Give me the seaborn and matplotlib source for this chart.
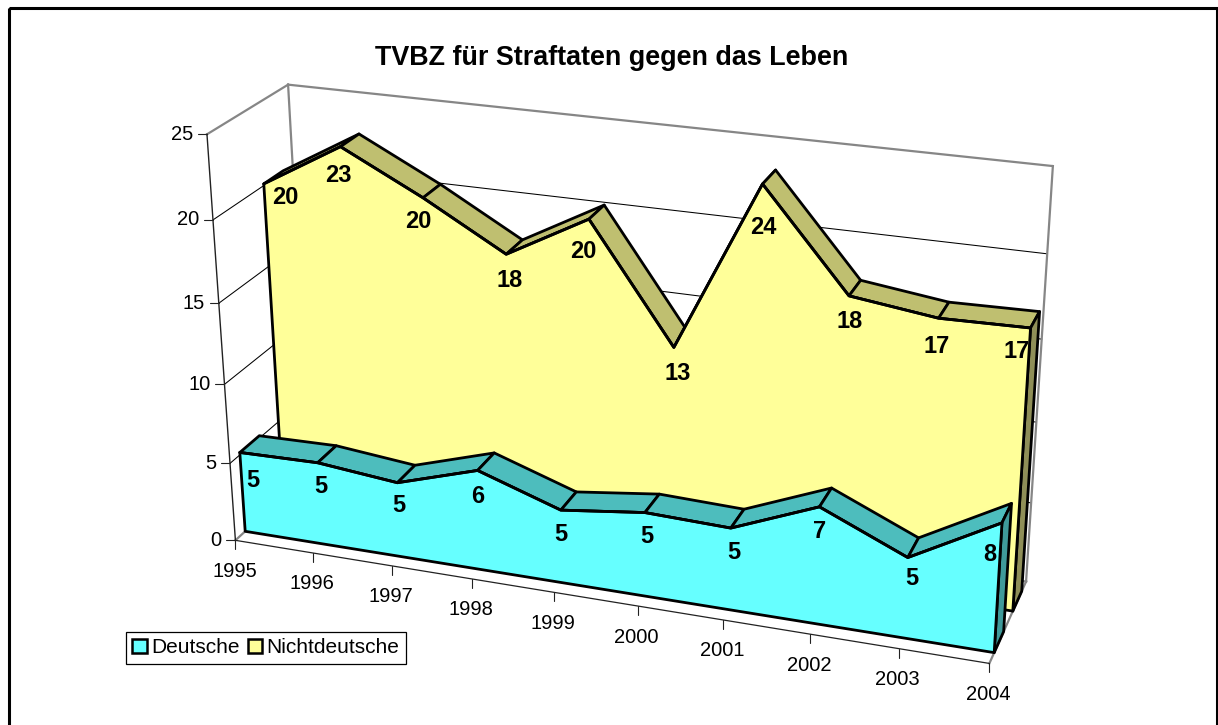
import numpy as np
import pandas as pd
import matplotlib
matplotlib.use("Agg")
import matplotlib.pyplot as plt
from matplotlib.patches import Patch, Polygon, Rectangle
import seaborn as sns

years = ["1995","1996","1997","1998","1999","2000","2001","2002","2003","2004"]
deutsche = [5.15,5.25,4.75,6.3,4.6,5.25,5.1,7.2,4.95,7.85]
nichtdeutsche = [20.1,22.9,20.4,17.6,20.3,13.25,23.5,17.65,17.0,17.1]
deutsche_labels = ["5","5","5","6","5","5","5","7","5","8"]
nichtdeutsche_labels = ["20","23","20","18","20","13","24","18","17","17"]
yticks = [0,5,10,15,20,25]
title = "TVBZ für Straftaten gegen das Leben"

sns.set_theme(style="white")
plt.rcParams["font.family"] = ["Liberation Sans", "DejaVu Sans"]

W, H = 1218, 725
fig = plt.figure(figsize=(W/100, H/100), dpi=100)
ax = fig.add_axes([0, 0, 1, 1])
ax.set_xlim(0, W); ax.set_ylim(H, 0); ax.axis("off")

# Camera fitted to the corners of the chart box: (x index, value, depth) -> picture
world = np.array([[0,0,0],[0,25,0],[0,25,1],[9,25,1],[9,0,1],[9,0,0],[0,0,1]], float)
image = np.array([[234.5,541],[208,134],[287,85],[1053,166],[1026,582],[989.3,663],[311,471]], float)
A = []; b = []
for (X,Y,Z),(u,v) in zip(world,image):
    A.append([X,Y,Z,1,0,0,0,0,-u*X,-u*Y,-u*Z]); b.append(u)
    A.append([0,0,0,0,X,Y,Z,1,-v*X,-v*Y,-v*Z]); b.append(v)
M = np.append(np.linalg.lstsq(np.array(A), np.array(b), rcond=None)[0], 1).reshape(3,4)
def proj(x, y, z):
    p = M @ np.array([x, y, z, 1.0])
    return p[0]/p[2], p[1]/p[2]

GRAY = "#868686"
def seg(a, b, color="black", lw=0.8, z=1):
    pa, pb = proj(*a), proj(*b)
    ax.plot([pa[0],pb[0]],[pa[1],pb[1]],color=color,lw=lw,zorder=z,solid_capstyle="projecting")

# Walls, gridlines
for v in yticks[1:-1]:
    seg((0,v,0),(0,v,1),lw=0.75); seg((0,v,1),(9,v,1),lw=0.75)
seg((0,25,0),(0,25,1),GRAY,1.6); seg((0,25,1),(9,25,1),GRAY,1.6)
seg((0,0,1),(0,25,1),GRAY,1.6); seg((9,0,1),(9,25,1),GRAY,1.6)
seg((0,0,0),(0,0,1),GRAY,1.6); seg((9,0,0),(9,0,1),GRAY,1.6)
seg((0,0,1),(9,0,1),GRAY,1.6)
seg((0,0,0),(0,25,0),"#222222",1.0)
seg((0,0,0),(9,0,0),"#222222",0.9,3)
# Ticks
for v in yticks:
    p = proj(0,v,0)
    ax.plot([p[0]-9,p[0]],[p[1],p[1]],color="#222222",lw=0.8,zorder=1)
    ax.text(p[0]-14,p[1],str(v),ha="right",va="center",fontsize=14.5,color="black")
for i,yr in enumerate(years):
    p = proj(i,0,0)
    ax.plot([p[0],p[0]],[p[1],p[1]+9],color="#222222",lw=0.8,zorder=3)
    ax.text(p[0]-1,p[1]+31,yr,ha="center",va="center",fontsize=14.5,color="black")

def area(values, z0, z1, front, top, side, base_z, name):
    n = len(values); eg = "black"; lw = 2.0
    for i in range(n-1):
        q = [proj(i,values[i],z0),proj(i+1,values[i+1],z0),proj(i+1,values[i+1],z1),proj(i,values[i],z1)]
        ax.add_patch(Polygon(q,closed=True,fc=top,ec=eg,lw=lw,joinstyle="round",zorder=base_z))
    q = [proj(n-1,0,z0),proj(n-1,values[-1],z0),proj(n-1,values[-1],z1),proj(n-1,0,z1)]
    ax.add_patch(Polygon(q,closed=True,fc=side,ec=eg,lw=lw,joinstyle="round",zorder=base_z))
    q = [proj(0,0,z0)]+[proj(i,values[i],z0) for i in range(n)]+[proj(n-1,0,z0)]
    ax.add_patch(Polygon(q,closed=True,fc=front,ec=eg,lw=lw,joinstyle="round",zorder=base_z+0.5))
    pts = np.array([proj(i,values[i],z0) for i in range(n)])
    df = pd.DataFrame({"px":pts[:,0],"py":pts[:,1],"series":name})
    sns.lineplot(data=df,x="px",y="py",color="black",lw=lw,sort=False,estimator=None,ax=ax,zorder=base_z+0.6,legend=False)
    return pts

y_pts = area(nichtdeutsche,0.625,0.875,"#FFFF99","#BFBF70","#8F8F58",5,"Nichtdeutsche")
d_pts = area(deutsche,0.125,0.375,"#66FFFF","#4DBDBD","#3F9A9A",10,"Deutsche")

# Data label nudges from each point, in pixels
y_off = [(22,14),(-2,29),(-5,24),(3,26),(-6,32),(4,26),(1,44),(1,26),(-2,28),(-14,24)]
d_off = [(13,28),(3,24),(1,23),(0,26),(0,24),(2,24),(3,24),(0,25),(4,21),(-12,32)]
for pts,labs,off in ((y_pts,nichtdeutsche_labels,y_off),(d_pts,deutsche_labels,d_off)):
    for p,l,o in zip(pts,labs,off):
        ax.text(p[0]+o[0],p[1]+o[1],l,ha="center",va="center",fontsize=17,fontweight="bold",color="black",zorder=20)

ax.text(612,58,title,ha="center",va="center",fontsize=19.4,fontweight="bold",color="black")

ax.add_patch(Rectangle((8.5,7.5),1208,900,fill=False,ec="black",lw=2.2,zorder=30))

handles=[Patch(fc="#66FFFF",ec="black",lw=1.8,label="Deutsche"),Patch(fc="#FFFF99",ec="black",lw=1.8,label="Nichtdeutsche")]
leg=ax.legend(handles=handles,loc="upper left",bbox_to_anchor=(126/W,1-632/H),bbox_transform=fig.transFigure,
    frameon=True,fancybox=False,edgecolor="black",framealpha=1,fontsize=15,ncol=2,handlelength=0.7,handleheight=0.7,
    handletextpad=0.2,columnspacing=0.4,borderpad=0.3,borderaxespad=0,labelcolor="black")
leg.get_frame().set_linewidth(0.9)
leg.set_zorder(25)
fig.savefig("out.png",dpi=100)
